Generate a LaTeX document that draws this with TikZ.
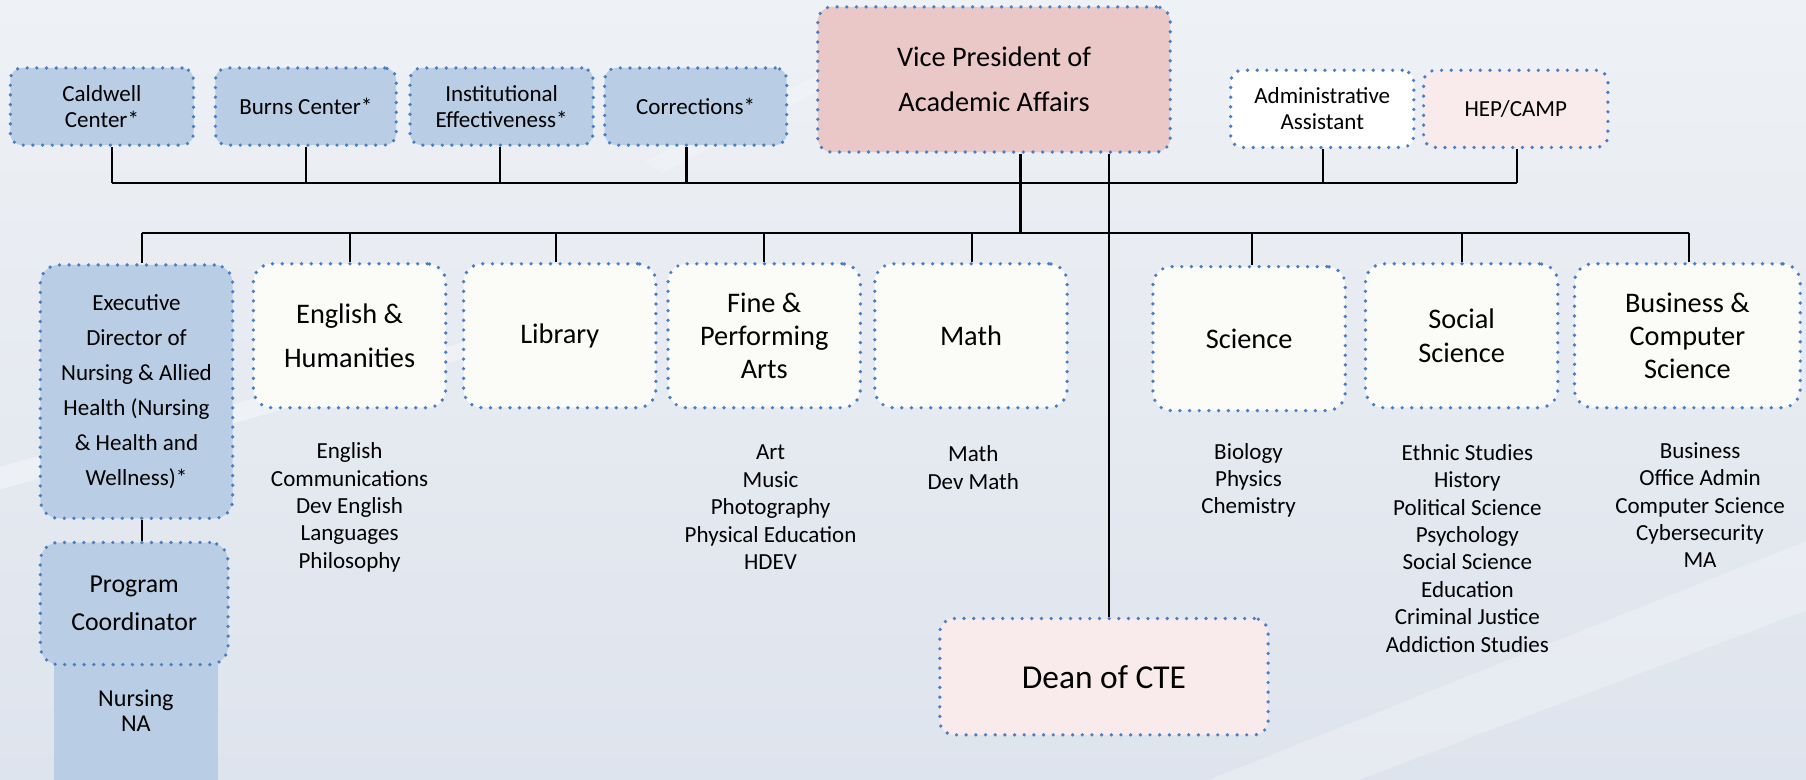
\documentclass[tikz,border=0pt]{standalone}
\usepackage{fontspec}
\setmainfont{Carlito}
\usepackage{xcolor}
\definecolor{unitblue}{HTML}{B9CDE5}
\definecolor{dotblue}{HTML}{4A7EC2}
\definecolor{vprose}{HTML}{EBC8C8}
\definecolor{palerose}{HTML}{F9EBEB}
\definecolor{deptwhite}{HTML}{FBFCF8}
\definecolor{bgtop}{HTML}{EEF1F5}
\definecolor{bgbottom}{HTML}{DEE4ED}

\begin{document}
\begin{tikzpicture}[x=0.5pt,y=-0.5pt,
  dotbox/.style={draw=dotblue, line width=1.6pt, dash pattern=on 0pt off 4.2pt,
    line cap=round, rounded corners=5pt, align=center, inner sep=2pt},
  smallbox/.style={dotbox, fill=unitblue, minimum width=79.5pt, minimum height=33.5pt,
    font=\fontsize{10}{11.3}\selectfont},
  deptbox/.style={dotbox, fill=deptwhite, rounded corners=8pt, minimum width=83.5pt,
    minimum height=62.5pt, font=\fontsize{12.3}{14.5}\selectfont},
  listtext/.style={align=center, font=\fontsize{10}{11.9}\selectfont},
  link/.style={draw=black, line width=0.9pt}]
% background
\shade[top color=bgtop, bottom color=bgbottom] (0,0) rectangle (1568,677);
\fill[white,opacity=0.35] (0,405) -- (560,255) -- (575,262) -- (0,425) -- cycle;
\fill[white,opacity=0.25] (1050,677) -- (1568,470) -- (1568,530) -- (1180,677) -- cycle;
\fill[white,opacity=0.2] (560,140) -- (760,40) -- (770,48) -- (575,150) -- cycle;

% top row
\node[smallbox] (caldwell) at (88.5,92.5) {Caldwell\\Center*};
\node[smallbox, minimum width=78.5pt] (burns) at (265.5,92.5) {Burns Center*};
\node[smallbox] (effect) at (435.5,92.5) {Institutional\\Effectiveness*};
\node[smallbox, minimum width=79pt] (corrections) at (604,92.5) {Corrections*};
\node[smallbox, fill=white] (assistant) at (1148,94.5) {Administrative\\Assistant};
\node[smallbox, fill=palerose, minimum width=80pt] (hepcamp) at (1316,94.5) {HEP/CAMP};
\node[dotbox, fill=vprose, rounded corners=6pt, minimum width=153pt, minimum height=63pt,
  font=\fontsize{12.3}{19.5}\selectfont] (vpaa) at (863,69) {Vice President of\\Academic Affairs};

% departments
\node[dotbox, fill=unitblue, rounded corners=8pt, minimum width=83.5pt, minimum height=110pt,
  font=\fontsize{10}{15.2}\selectfont] (execdir) at (118.5,340)
  {Executive\\Director of\\Nursing \& Allied\\Health (Nursing\\\& Health and\\Wellness)*};
\node[deptbox] (english) at (303.5,291.5) {English \&\\[4.5pt]Humanities};
\node[deptbox] (library) at (486,291.5) {Library};
\node[deptbox] (arts) at (663.5,291.5) {Fine \&\\Performing\\Arts};
\node[deptbox] (math) at (843,291.5) {Math};
\node[deptbox] (science) at (1084.5,294) {Science};
\node[deptbox] (social) at (1269,291.5) {Social\\Science};
\node[deptbox, minimum width=98pt] (business) at (1465,291.5) {Business \&\\Computer\\Science};

% nursing program
\fill[unitblue] (47,570) rectangle (189,677);
\node[dotbox, fill=unitblue, rounded corners=8pt, minimum width=81.5pt, minimum height=53pt,
  font=\fontsize{11.2}{16.6}\selectfont] (coordinator) at (116.5,524) {Program\\Coordinator};
\node[listtext, font=\fontsize{10.5}{11.2}\selectfont] (nursinglist) at (118,617) {Nursing\\NA};

\node[dotbox, fill=palerose, rounded corners=6pt, minimum width=142.5pt, minimum height=50.5pt,
  font=\fontsize{14.5}{17}\selectfont] (cte) at (958.5,587.5) {Dean of CTE};

% subject lists
\node[listtext] (englishlist) at (303.5,440.5) {English\\Communications\\Dev English\\Languages\\Philosophy};
\node[listtext] (artslist) at (669,440.5) {Art\\Music\\Photography\\Physical Education\\HDEV};
\node[listtext] (mathlist) at (845,406) {Math\\Dev Math};
\node[listtext] (sciencelist) at (1084,417) {Biology\\Physics\\Chemistry};
\node[listtext] (sociallist) at (1274,476) {Ethnic Studies\\History\\Political Science\\Psychology\\Social Science\\Education\\Criminal Justice\\Addiction Studies};
\node[listtext] (businesslist) at (1476,438.5) {Business\\Office Admin\\Computer Science\\Cybersecurity\\MA};

% connectors
\coordinate (topbus) at (0,158.5);
\coordinate (midbus) at (0,202);
\foreach \n/\dx in {caldwell/4.5pt,burns/0pt,effect/-0.5pt,corrections/-4pt,assistant/0.5pt,hepcamp/0.5pt}
  \draw[link] ([xshift=\dx]\n.south) -- ([xshift=\dx]\n.south |- topbus);
\draw[link] ([xshift=4.5pt]caldwell.south |- topbus) -- ([xshift=0.5pt]hepcamp.south |- topbus);
\draw[link] ([xshift=11.5pt]vpaa.south) -- ([xshift=11.5pt]vpaa.south |- midbus);
\draw[link] ([xshift=2.25pt]execdir.north |- midbus) -- ([xshift=0.5pt]business.north |- midbus);
\foreach \n/\dx in {execdir/2.25pt,english/0pt,library/-1.5pt,arts/0pt,math/0.5pt,science/1.25pt,social/0pt,business/0.5pt}
  \draw[link] ([xshift=\dx]\n.north |- midbus) -- ([xshift=\dx]\n.north);
\draw[link] ([xshift=50pt]vpaa.south) -- ([xshift=2.25pt]cte.north);
\draw[link] ([xshift=2.25pt]execdir.south) -- ([xshift=3.25pt]coordinator.north);
\end{tikzpicture}
\end{document}
